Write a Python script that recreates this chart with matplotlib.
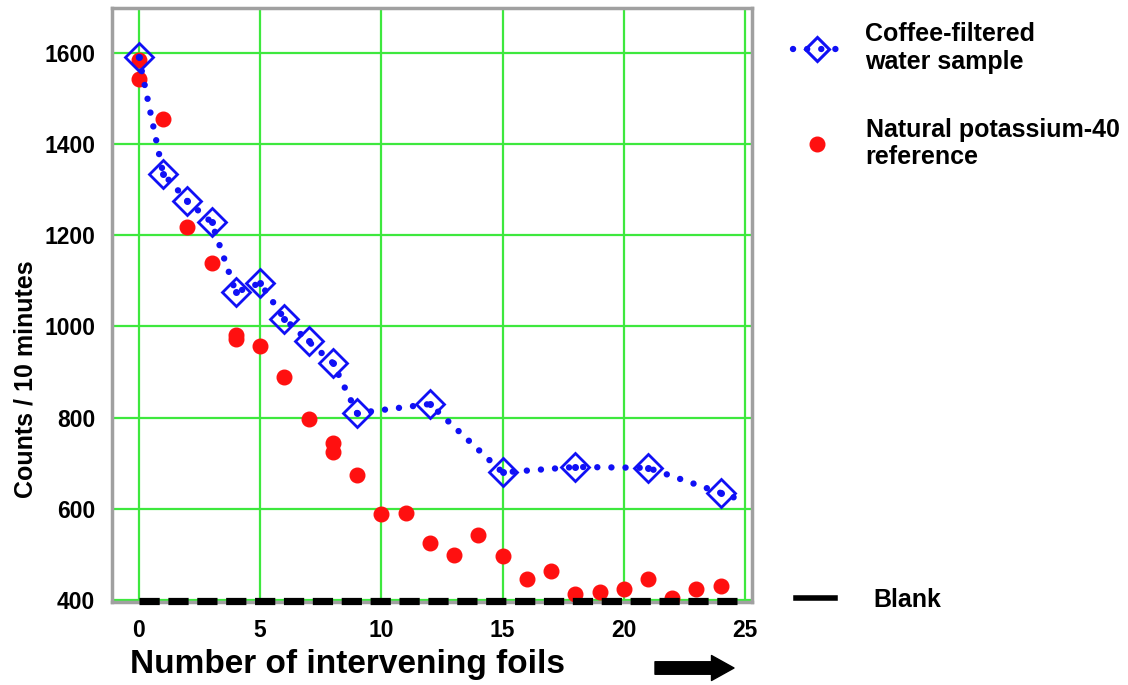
import matplotlib
matplotlib.use("Agg")
import matplotlib.pyplot as plt
from matplotlib.lines import Line2D

plt.rcParams['font.family'] = ['Liberation Sans', 'DejaVu Sans']
plt.rcParams['font.weight'] = 'bold'

# coffee-filtered water sample (blue diamonds, dotted line)
coffee_x = [0, 1, 2, 3, 4, 5, 6, 7, 8, 9, 12, 15, 18, 21, 24, 25]
coffee_y = [1590, 1335, 1275, 1228, 1075, 1095, 1017, 967, 920, 810, 830, 680, 692, 690, 635, 617]
n_marked = 15   # last point is only where the dotted line leaves the frame

# natural potassium-40 reference (red dots)
k40_x = [0, 0, 1, 2, 3, 4, 4, 5, 6, 7, 8, 8, 9, 10, 11, 12, 13, 14, 15, 16, 17, 18, 19, 20, 21, 22, 23, 24]
k40_y = [1583, 1543, 1455, 1218, 1138, 982, 972, 958, 890, 797, 745, 725, 675, 588, 590, 525, 500, 542, 496, 447, 465, 413, 418, 424, 447, 405, 425, 432]

blank_x = [0, 25]
blank_y = [398, 398]

xticks = [0, 5, 10, 15, 20, 25]
yticks = [400, 600, 800, 1000, 1200, 1400, 1600]

BLUE = '#1010f5'
RED = '#ff1010'
GREEN = '#3ee83e'
GRAY = '#a0a0a0'

DOTS = (0, (0.01, 2.2))

fig = plt.figure(figsize=(11.28, 6.85), dpi=100)
ax = fig.add_axes([112/1128, 83/685, 640/1128, 594/685])

ax.set_xlim(-1.11, 25.29)
ax.set_ylim(396, 1698)
ax.set_xticks(xticks)
ax.set_yticks(yticks)
ax.grid(True, color=GREEN, linewidth=1.6)
ax.set_axisbelow(True)
ax.tick_params(length=0, labelsize=16.5, pad=12)
for lab in ax.get_xticklabels() + ax.get_yticklabels():
    lab.set_fontweight('bold')
for sp in ax.spines.values():
    sp.set_color(GRAY)
    sp.set_linewidth(2.5)

# blank level
ax.plot(blank_x, blank_y, color='black', linewidth=5.2, linestyle=(0, (2.8, 1.2)),
        clip_on=False, zorder=4)

ax.plot(k40_x, k40_y, 'o', color=RED, markersize=10.5, zorder=3)

ax.plot(coffee_x, coffee_y, color=BLUE, linewidth=4.6, linestyle=DOTS,
        dash_capstyle='round', zorder=5)
ax.plot(coffee_x[:n_marked], coffee_y[:n_marked], 'D', markersize=14,
        markerfacecolor='none', markeredgecolor=BLUE, markeredgewidth=2.0, zorder=6)
ax.plot(coffee_x[:n_marked], coffee_y[:n_marked], 'o', color=BLUE, markersize=4, zorder=6)

# legend for the two series
h1 = Line2D([], [], color=BLUE, linewidth=4.6, linestyle=DOTS,
            dash_capstyle='round', marker='D', markersize=12, markerfacecolor='none',
            markeredgecolor=BLUE, markeredgewidth=2.2)
h2 = Line2D([], [], linestyle='none', marker='o', color=RED, markersize=10.5)
fig.legend([h1, h2], ['Coffee-filtered\nwater sample', 'Natural potassium-40\nreference'],
           loc='upper left', bbox_to_anchor=(793/1128, 1 - 22/685), frameon=False,
           borderaxespad=0, borderpad=0, handlelength=1.9, handletextpad=1.0,
           labelspacing=1.75, prop={'size': 18, 'weight': 'bold'})

h3 = Line2D([], [], color='black', linewidth=4)
fig.legend([h3], ['Blank'], loc='center left', bbox_to_anchor=(796/1128, 1 - 600/685),
           frameon=False, borderaxespad=0, borderpad=0, handlelength=1.55,
           handletextpad=1.55, prop={'size': 18, 'weight': 'bold'})

fig.text(26/1128, 1 - 379/685, 'Counts / 10 minutes', rotation=90, ha='center',
         va='center', fontsize=18, fontweight='bold')
fig.text(130/1128, 1 - 665/685, 'Number of intervening foils', ha='left', va='center',
         fontsize=24, fontweight='bold')

ax.annotate('', xy=(734/1128, 1 - 668/685), xytext=(655/1128, 1 - 668/685),
            xycoords='figure fraction', textcoords='figure fraction',
            arrowprops=dict(arrowstyle='simple,head_length=0.9,head_width=1.0,tail_width=0.5',
                            mutation_scale=18, color='black', shrinkA=0, shrinkB=0))

fig.savefig('out.png', dpi=100)
